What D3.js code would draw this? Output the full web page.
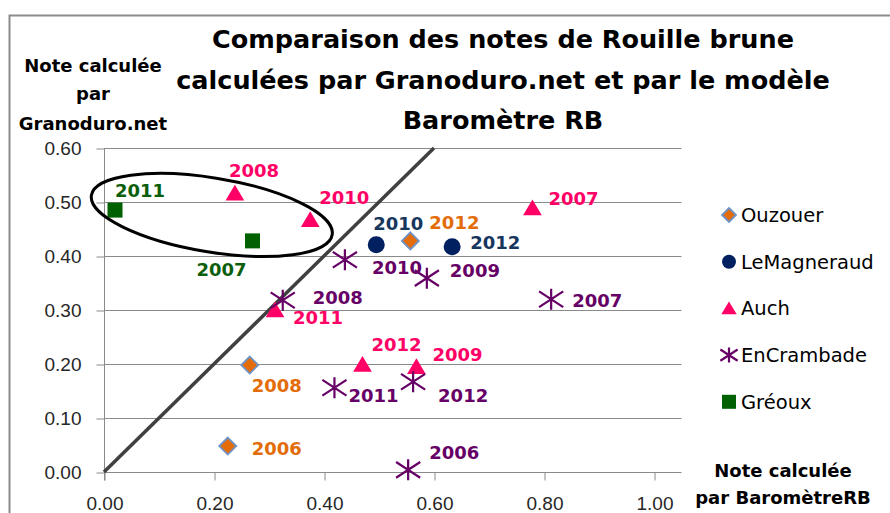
<!DOCTYPE html>
<html lang="fr">
<head>
<meta charset="utf-8">
<title>Rouille brune</title>
<script src="https://cdn.jsdelivr.net/npm/d3@7"></script>
<style>
	body { margin: 0; background: #fff; }
	svg { font-family: "DejaVu Sans", sans-serif; }
	.tick-label { font-size: 19px; fill: #262626; }
	.pt-label { font-size: 18px; font-weight: bold; }
	.axis-title { font-size: 18px; font-weight: bold; fill: #000; }
	.legend-label { font-size: 19.5px; fill: #000; }
</style>
</head>
<body>
<svg id="chart" width="890" height="513"></svg>
<script>
	// chart data (x: note BaromètreRB, y: note Granoduro.net)
	var seriesNames = ["Ouzouer", "LeMagneraud", "Auch", "EnCrambade", "Gréoux"];

	var ouzouer = [
		{ year: 2006, x: 0.225, y: 0.048 },
		{ year: 2008, x: 0.265, y: 0.198 },
		{ year: 2012, x: 0.557, y: 0.428 }
	];
	var leMagneraud = [
		{ year: 2010, x: 0.495, y: 0.421 },
		{ year: 2012, x: 0.633, y: 0.417 }
	];
	var auch = [
		{ year: 2008, x: 0.238, y: 0.516 },
		{ year: 2010, x: 0.375, y: 0.467 },
		{ year: 2011, x: 0.311, y: 0.300 },
		{ year: 2007, x: 0.779, y: 0.489 },
		{ year: 2012, x: 0.470, y: 0.199 },
		{ year: 2009, x: 0.568, y: 0.195 }
	];
	var enCrambade = [
		{ year: 2008, x: 0.325, y: 0.318 },
		{ year: 2010, x: 0.438, y: 0.393 },
		{ year: 2009, x: 0.587, y: 0.359 },
		{ year: 2007, x: 0.813, y: 0.320 },
		{ year: 2011, x: 0.419, y: 0.156 },
		{ year: 2012, x: 0.562, y: 0.167 },
		{ year: 2006, x: 0.553, y: 0.004 }
	];
	var greoux = [
		{ year: 2011, x: 0.020, y: 0.485 },
		{ year: 2007, x: 0.270, y: 0.428 }
	];

	var xTicks = [0, 0.2, 0.4, 0.6, 0.8, 1.0];
	var yTicks = [0, 0.1, 0.2, 0.3, 0.4, 0.5, 0.6];
	var diagonal = [[0, 0], [0.6, 0.6]];

	var titleLines = ["Comparaison des notes de Rouille brune",
		"calculées par Granoduro.net et par le modèle", "Baromètre RB"];
	var yTitleLines = ["Note calculée", "par", "Granoduro.net"];
	var xTitleLines = ["Note calculée", "par BaromètreRB"];

	// ---- layout / style ----
	var dataBySeries = [ouzouer, leMagneraud, auch, enCrambade, greoux];
	var markerColor = ["#E46C0A", "#002060", "#FF0066", "#660066", "#006100"];
	var labelColor = ["#E36C09", "#17365D", "#FF0066", "#660066", "#0B5E0B"];
	var markerType = ["diamond", "circle", "triangle", "asterisk", "square"];

	// label offsets [dx, dy] from the marker (left edge, vertical middle of text)
	var labelOffsets = {
		"Ouzouer": { 2006: [24, 2], 2008: [2, 20], 2012: [19, -18] },
		"LeMagneraud": { 2010: [-3, -21], 2012: [18, -4] },
		"Auch": { 2008: [-6, -23], 2010: [9, -22], 2011: [18, 8], 2007: [16, -9], 2012: [9, -20], 2009: [16, -12] },
		"EnCrambade": { 2008: [30, -3], 2010: [27, 8], 2009: [23, -8], 2007: [21, 1], 2011: [14, 8], 2012: [25, 14], 2006: [21, -17] },
		"Gréoux": { 2011: [0, -20], 2007: [-56, 29] }
	};

	var svg = d3.select("#chart");

	// outer chart frame
	svg.append("rect")
		.attr("x", 9.5).attr("y", 15.5)
		.attr("width", 900).attr("height", 520)
		.attr("fill", "none")
		.attr("stroke", "#8c8c8c")
		.attr("stroke-width", 2);

	var x = d3.scaleLinear().domain([0, 1.05]).range([104, 681.5]);
	var y = d3.scaleLinear().domain([0, 0.6]).range([472, 148]);

	// horizontal gridlines
	svg.append("g").selectAll("line")
		.data(yTicks)
		.enter().append("line")
		.attr("x1", x(0)).attr("x2", x(1.05))
		.attr("y1", function(d){ return Math.round(y(d)) + 0.5 })
		.attr("y2", function(d){ return Math.round(y(d)) + 0.5 })
		.attr("stroke", "#8a8a8a")
		.attr("stroke-width", 1);

	// y axis
	var yAxis = svg.append("g")
		.attr("transform", "translate(" + (x(0) + 0.5) + ",0.5)")
		.call(d3.axisLeft(y).tickValues(yTicks).tickFormat(d3.format(".2f")).tickSize(8).tickPadding(15));
	// x axis
	var xAxis = svg.append("g")
		.attr("transform", "translate(0.5," + (y(0) + 0.5) + ")")
		.call(d3.axisBottom(x).tickValues(xTicks).tickFormat(d3.format(".2f")).tickSize(8).tickPadding(16));

	[yAxis, xAxis].forEach(function(ax) {
		ax.select(".domain").attr("stroke", "#8a8a8a");
		ax.selectAll(".tick line").attr("stroke", "#8a8a8a");
		ax.selectAll(".tick text").attr("class", "tick-label").attr("font-size", null).attr("font-family", null);
	});
	xAxis.select(".domain").remove();
	yAxis.select(".domain").attr("d", "M0," + y(0.6) + "V" + (y(0) + 8));

	// 1:1 line
	svg.append("path")
		.datum(diagonal)
		.attr("d", d3.line().x(function(d){ return x(d[0]) }).y(function(d){ return y(d[1]) }))
		.attr("stroke", "#404040")
		.attr("stroke-width", 3.5)
		.attr("fill", "none");

	// markers
	function drawMarker(g, type, color, s) {
		if (type === "diamond") {
			g.append("path").attr("d", "M0," + (-s) + "L" + s + ",0L0," + s + "L" + (-s) + ",0Z")
				.attr("fill", color).attr("stroke", "#6F93C6").attr("stroke-width", 1.8);
		} else if (type === "circle") {
			g.append("circle").attr("r", s).attr("fill", color);
		} else if (type === "triangle") {
			g.append("path").attr("d", "M0," + (-s) + "L" + (s * 1.1) + "," + (s * 0.85) + "L" + (-s * 1.1) + "," + (s * 0.85) + "Z")
				.attr("fill", color);
		} else if (type === "square") {
			g.append("rect").attr("x", -s).attr("y", -s).attr("width", 2 * s).attr("height", 2 * s)
				.attr("fill", color);
		} else if (type === "asterisk") {
			var w = s * 1.15, h = s;
			g.append("path").attr("d",
				"M" + (-w) + "," + (-h * 0.75) + "L" + w + "," + (h * 0.75) +
				"M" + (-w) + "," + (h * 0.75) + "L" + w + "," + (-h * 0.75) +
				"M0," + (-h) + "L0," + h)
				.attr("stroke", color).attr("stroke-width", 2.2).attr("fill", "none");
		}
	}

	var markerSize = { diamond: 8.5, circle: 8.5, triangle: 8.5, square: 7.5, asterisk: 10.5 };

	seriesNames.forEach(function(name, i) {
		var g = svg.append("g").attr("class", "series");
		dataBySeries[i].forEach(function(d) {
			var m = g.append("g").attr("transform", "translate(" + x(d.x) + "," + y(d.y) + ")");
			drawMarker(m, markerType[i], markerColor[i], markerSize[markerType[i]]);
		});
		g.selectAll("text")
			.data(dataBySeries[i])
			.enter().append("text")
			.attr("class", "pt-label")
			.attr("x", function(d){ return x(d.x) + labelOffsets[name][d.year][0] })
			.attr("y", function(d){ return y(d.y) + labelOffsets[name][d.year][1] })
			.attr("dy", "0.36em")
			.attr("fill", labelColor[i])
			.text(function(d){ return d.year });
	});

	// circled group (Gréoux / Auch above the line)
	var ellipseCenter = [0.196, 0.476];
	svg.append("ellipse")
		.attr("transform", "translate(" + x(ellipseCenter[0]) + "," + y(ellipseCenter[1]) + ") rotate(9.3)")
		.attr("rx", 122).attr("ry", 37)
		.attr("fill", "none")
		.attr("stroke", "#000")
		.attr("stroke-width", 3);

	// legend
	var legend = svg.append("g").attr("transform", "translate(729,215)");
	var legendSize = { diamond: 7, circle: 7, triangle: 7, square: 7, asterisk: 7.5 };
	seriesNames.forEach(function(name, i) {
		var row = legend.append("g").attr("transform", "translate(0," + (i * 46.7) + ")");
		drawMarker(row, markerType[i], markerColor[i], legendSize[markerType[i]]);
		row.append("text")
			.attr("class", "legend-label")
			.attr("x", 12)
			.attr("dy", "0.36em")
			.text(name);
	});

	// titles
	svg.append("g").selectAll("text")
		.data(titleLines)
		.enter().append("text")
		.attr("x", 503)
		.attr("y", function(d, i){ return [48, 89, 129][i] })
		.attr("text-anchor", "middle")
		.attr("font-size", "25.5px")
		.attr("font-weight", "bold")
		.text(function(d){ return d });

	svg.append("g").selectAll("text")
		.data(yTitleLines)
		.enter().append("text")
		.attr("class", "axis-title")
		.attr("x", 93)
		.attr("y", function(d, i){ return [72, 100, 130][i] })
		.attr("text-anchor", "middle")
		.text(function(d){ return d });

	svg.append("g").selectAll("text")
		.data(xTitleLines)
		.enter().append("text")
		.attr("class", "axis-title")
		.attr("x", 783)
		.attr("y", function(d, i){ return [477, 504][i] })
		.attr("text-anchor", "middle")
		.text(function(d){ return d });
</script>
</body>
</html>
